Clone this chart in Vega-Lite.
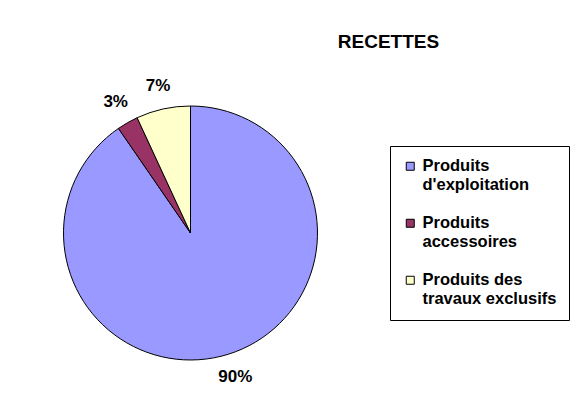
{
  "$schema": "https://vega.github.io/schema/vega-lite/v6.json",
  "width": 381,
  "height": 338,
  "autosize": {"type": "none"},
  "padding": {"left": 0, "top": 64, "right": 206, "bottom": 0},
  "background": "white",
  "config": {"view": {"stroke": null}},
  "title": {
    "text": "RECETTES",
    "font": "Liberation Sans",
    "fontSize": 19,
    "fontWeight": "bold",
    "color": "black",
    "anchor": "middle",
    "frame": "group",
    "dx": 198,
    "offset": 12
  },
  "data": {
    "values": [
      {"categorie": "Produits d'exploitation", "part": 0.904, "ordre": 1},
      {"categorie": "Produits accessoires", "part": 0.027, "ordre": 2},
      {"categorie": "Produits des travaux exclusifs", "part": 0.069, "ordre": 3}
    ]
  },
  "encoding": {
    "theta": {"field": "part", "type": "quantitative", "stack": true},
    "order": {"field": "ordre", "type": "quantitative"}
  },
  "layer": [
    {
      "mark": {"type": "arc", "outerRadius": 127, "stroke": "black", "strokeWidth": 1},
      "encoding": {
        "color": {
          "field": "categorie",
          "type": "nominal",
          "sort": null,
          "scale": {
            "domain": ["Produits d'exploitation", "Produits accessoires", "Produits des travaux exclusifs"],
            "range": ["#9999FF", "#993366", "#FFFFCC"]
          },
          "legend": {
            "orient": "none",
            "legendX": 390,
            "legendY": 82,
            "title": null,
            "strokeColor": "black",
            "padding": 12,
            "symbolType": "square",
            "symbolSize": 64,
            "symbolStrokeColor": "black",
            "symbolStrokeWidth": 1,
            "symbolOffset": 0,
            "labelFont": "Liberation Sans",
            "labelFontSize": 16.5,
            "labelFontWeight": "bold",
            "labelColor": "black",
            "labelLineHeight": 20,
            "labelLimit": 300,
            "labelOffset": 4,
            "rowPadding": 21,
            "labelExpr": "datum.label == \"Produits d'exploitation\" ? ['Produits', \"d'exploitation\"] : datum.label == 'Produits accessoires' ? ['Produits', 'accessoires'] : ['Produits des', 'travaux exclusifs']"
          }
        }
      }
    },
    {
      "mark": {
        "type": "text",
        "radius": 151,
        "font": "Liberation Sans",
        "fontSize": 17,
        "fontWeight": "bold",
        "fill": "black"
      },
      "encoding": {
        "detail": {"field": "categorie", "type": "nominal"},
        "text": {"field": "part", "type": "quantitative", "format": ".0%"}
      }
    }
  ]
}
